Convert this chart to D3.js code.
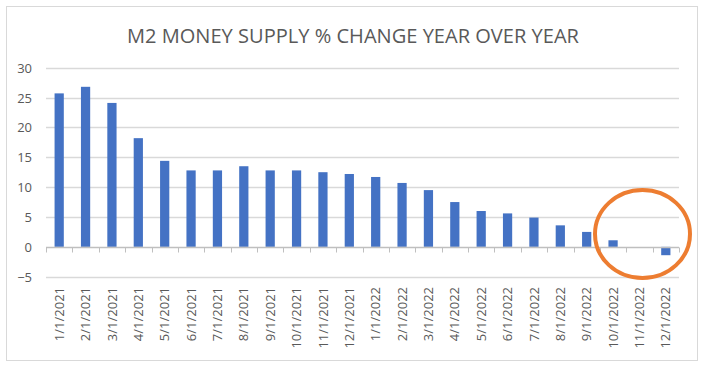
<!DOCTYPE html>
<html>
<head>
<meta charset="utf-8">
<script src="https://cdn.jsdelivr.net/npm/d3@7"></script>
<style>
  html, body { margin: 0; padding: 0; background: #ffffff; }
  svg { display: block; }
</style>
</head>
<body>
<svg id="chart" width="706" height="368"></svg>
<script>
const categories = ["1/1/2021","2/1/2021","3/1/2021","4/1/2021","5/1/2021","6/1/2021","7/1/2021","8/1/2021","9/1/2021","10/1/2021","11/1/2021","12/1/2021",
  "1/1/2022","2/1/2022","3/1/2022","4/1/2022","5/1/2022","6/1/2022","7/1/2022","8/1/2022","9/1/2022","10/1/2022","11/1/2022","12/1/2022"];
const values = [25.7, 26.8, 24.1, 18.2, 14.4, 12.8, 12.8, 13.5, 12.8, 12.8, 12.5, 12.2,
  11.7, 10.7, 9.5, 7.5, 6.0, 5.6, 4.9, 3.6, 2.5, 1.1, 0.0, -1.4];
const yTicks = [-5, 0, 5, 10, 15, 20, 25, 30];
const title = "M2 MONEY SUPPLY % CHANGE YEAR OVER YEAR";

const svg = d3.select("#chart");
const font = "'Open Sans', 'Segoe UI', Calibri, sans-serif";

// outer border
svg.append("rect").attr("x", 6.5).attr("y", 6.5).attr("width", 691).attr("height", 354)
  .attr("fill", "#fff").attr("stroke", "#d9d9d9").attr("stroke-width", 1);

// title
svg.append("text").attr("x", 353).attr("y", 42.5).attr("text-anchor", "middle")
  .attr("font-family", font).attr("font-size", 19.5).attr("fill", "#595959")
  .attr("textLength", 452).attr("lengthAdjust", "spacingAndGlyphs")
  .text(title);

const x = d3.scaleBand().domain(categories).range([46, 679]).paddingInner(0.65).paddingOuter(0.325);
const xb = d3.scaleBand().domain(categories).range([46, 679]).padding(0);
const y = d3.scaleLinear().domain([-5, 30]).range([276.7, 67.7]);

// gridlines
svg.append("g").selectAll("line").data(yTicks.filter(d => d !== 0)).join("line")
  .attr("x1", 46).attr("x2", 679)
  .attr("y1", d => Math.round(y(d)) + 0.5).attr("y2", d => Math.round(y(d)) + 0.5)
  .attr("stroke", "#d9d9d9").attr("stroke-width", 1.3);

// y labels
const yAxis = d3.axisLeft(y).tickValues(yTicks).tickSize(0).tickPadding(0);
const gy = svg.append("g").attr("transform", "translate(32,0)").call(yAxis);
gy.select(".domain").remove();
gy.selectAll("text").attr("font-family", font).attr("font-size", 13).attr("fill", "#595959")
  .attr("dy", "0.35em");

// bars
svg.append("g").selectAll("rect").data(values).join("rect")
  .attr("x", (d, i) => x(categories[i]))
  .attr("width", x.bandwidth())
  .attr("y", d => y(Math.max(0, d)))
  .attr("height", d => Math.abs(y(d) - y(0)))
  .attr("fill", "#4472c4");

// zero axis line with ticks
const y0 = Math.round(y(0)) + 0.5;
svg.append("line").attr("x1", 46).attr("x2", 679).attr("y1", y0).attr("y2", y0)
  .attr("stroke", "#bfbfbf").attr("stroke-width", 1.3);
const tickXs = categories.map(c => xb(c)).concat([679]);
svg.append("g").selectAll("line").data(tickXs).join("line")
  .attr("x1", d => Math.round(d) + 0.5).attr("x2", d => Math.round(d) + 0.5)
  .attr("y1", y0).attr("y2", y0 + 5)
  .attr("stroke", "#bfbfbf").attr("stroke-width", 1);

// x labels (rotated)
const xAxis = d3.axisBottom(xb).tickSize(0).tickPadding(0);
const gx = svg.append("g").attr("transform", "translate(0,287)").call(xAxis);
gx.select(".domain").remove();
gx.selectAll("text")
  .attr("font-family", font).attr("font-size", 13).attr("fill", "#595959")
  .attr("text-anchor", "end")
  .attr("transform", "rotate(-90)")
  .attr("x", 0).attr("y", 0).attr("dx", 0).attr("dy", "0.35em");

// orange annotation circle
svg.append("ellipse").attr("cx", 642.5).attr("cy", 234).attr("rx", 47.5).attr("ry", 44)
  .attr("fill", "none").attr("stroke", "#ed7d31").attr("stroke-width", 4);
</script>
</body>
</html>
